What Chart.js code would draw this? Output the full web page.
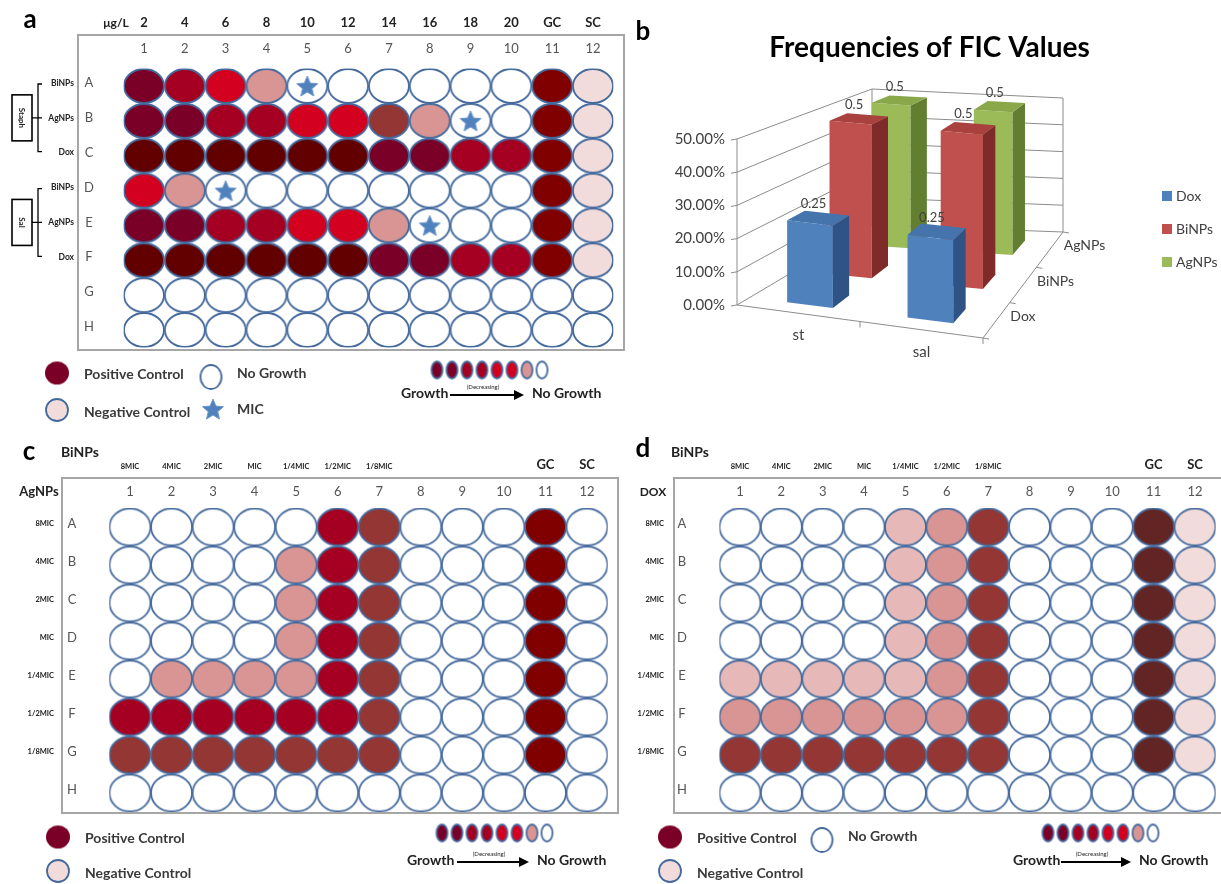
<!DOCTYPE html>
<html>
<head>
<meta charset="utf-8">
<script src="https://cdn.jsdelivr.net/npm/chart.js@4.4.1/dist/chart.umd.min.js"></script>
<style>
  body { margin: 0; background: #fff; }
  #page { position: relative; width: 1221px; height: 884px; overflow: hidden; background: #fff; }
  canvas { position: absolute; }
</style>
</head>
<body>
<div id="page">
  <canvas id="plateA" width="630" height="430" style="left:0;top:0"></canvas>
  <canvas id="ficChart" width="591" height="430" style="left:630px;top:0"></canvas>
  <canvas id="plateC" width="620" height="454" style="left:0;top:430px"></canvas>
  <canvas id="plateD" width="611" height="454" style="left:610px;top:430px"></canvas>
</div>
<script>
// ---- data ----
const plateCols = [1, 2, 3, 4, 5, 6, 7, 8, 9, 10, 11, 12];
const plateRows = ['A', 'B', 'C', 'D', 'E', 'F', 'G', 'H'];

// panel a
const concLabelsA = ['2', '4', '6', '8', '10', '12', '14', '16', '18', '20', 'GC', 'SC'];
const rowNamesA = ['BiNPs', 'AgNPs', 'Dox', 'BiNPs', 'AgNPs', 'Dox', '', ''];
const groupsA = [['Staph', 0, 2], ['Sal', 3, 5]];
// one letter per well: k darkest .. p pink, n negative control, g/G growth control, . empty, * MIC
const wellsA = [
  'mrRp*.....gn',
  'mmrrRRbp*.gn',
  'kkkkkkmmrrgn',
  'Rp*.......gn',
  'mmrrRRp*..gn',
  'kkkkkkmmrrgn',
  '............',
  '............'
];

// panels c, d
const micLabels = ['8MIC', '4MIC', '2MIC', 'MIC', '1/4MIC', '1/2MIC', '1/8MIC', '', '', '', 'GC', 'SC'];
const rowMicLabels = ['8MIC', '4MIC', '2MIC', 'MIC', '1/4MIC', '1/2MIC', '1/8MIC', ''];
const wellsC = [
  '.....rb...g.',
  '....prb...g.',
  '....prb...g.',
  '....prb...g.',
  '.pppprb...g.',
  'rrrrrrb...g.',
  'bbbbbbb...g.',
  '............'
];
const wellsD = [
  '....qpb...Gn',
  '....qpb...Gn',
  '....qpb...Gn',
  '....qpb...Gn',
  'qqqqqpb...Gn',
  'ppppppb...Gn',
  'bbbbbbb...Gn',
  '............'
];
const gradeCodes = ['m', 'm', 'r', 'r', 'R', 'R', 'p', '.'];

// panel b
const ficStrains = ['st', 'sal'];
const ficSeries = ['Dox', 'BiNPs', 'AgNPs'];
const ficDox = [0.25, 0.25];
const ficBiNPs = [0.5, 0.5];
const ficAgNPs = [0.5, 0.5];
const ficTicks = [0, 0.1, 0.2, 0.3, 0.4, 0.5];

// ---- styles ----
Chart.defaults.font.family = 'Lato, "DejaVu Sans", sans-serif';
const F = 'Lato, "DejaVu Sans", sans-serif';
const wellPalette = {
  '.': '#ffffff', '*': '#ffffff',
  k: '#620000', m: '#7a0028', r: '#a50021', R: '#d3001f',
  b: '#943634', p: '#d99594', q: '#e6b9b8', n: '#f2dcdb',
  g: '#800000', G: '#632523'
};
const wellStroke = '#44699c';

function txt(ctx, s, x, y, font, color, align) {
  ctx.font = font;
  ctx.fillStyle = color;
  ctx.textAlign = align || 'center';
  ctx.textBaseline = 'middle';
  ctx.fillText(s, x, y);
}

const imgCache = {};
function wellImg(color, w, h, noStroke) {
  const key = color + w + 'x' + h + (noStroke ? 'n' : '');
  if (imgCache[key]) return imgCache[key];
  const c = document.createElement('canvas');
  c.width = w + 4; c.height = h + 4;
  const x = c.getContext('2d');
  x.beginPath();
  x.ellipse(c.width / 2, c.height / 2, w / 2, h / 2, 0, 0, Math.PI * 2);
  x.fillStyle = color;
  x.fill();
  if (!noStroke) {
    x.lineWidth = 1.8;
    x.strokeStyle = wellStroke;
    x.stroke();
  }
  imgCache[key] = c;
  return c;
}

function starImg(r) {
  const c = document.createElement('canvas');
  c.width = c.height = 2 * r + 4;
  const x = c.getContext('2d');
  x.beginPath();
  for (let i = 0; i < 10; i++) {
    const a = -Math.PI / 2 + i * Math.PI / 5;
    const rr = i % 2 ? r * 0.45 : r;
    x.lineTo(c.width / 2 + rr * Math.cos(a), c.height / 2 + rr * Math.sin(a) + r * 0.1);
  }
  x.closePath();
  x.fillStyle = '#4f81bd';
  x.fill();
  x.strokeStyle = '#6b96cc';
  x.lineWidth = 1;
  x.stroke();
  return c;
}
const star = starImg(11);

function drawImgAt(ctx, img, x, y) {
  ctx.drawImage(img, x - img.width / 2, y - img.height / 2);
}

function arrow(ctx, x1, x2, y) {
  ctx.beginPath();
  ctx.moveTo(x1, y);
  ctx.lineTo(x2 - 6, y);
  ctx.lineWidth = 2;
  ctx.strokeStyle = '#000';
  ctx.stroke();
  ctx.beginPath();
  ctx.moveTo(x2, y);
  ctx.lineTo(x2 - 10, y - 5);
  ctx.lineTo(x2 - 10, y + 5);
  ctx.closePath();
  ctx.fillStyle = '#000';
  ctx.fill();
}

function drawLegend(ctx, L) {
  const lf = 'bold 14px ' + F, lc = '#3a3a3a';
  drawImgAt(ctx, wellImg('#7a0028', 24, 23, true), L.pos[0], L.pos[1]);
  txt(ctx, 'Positive Control', L.pos[0] + 27, L.pos[1] + 1, lf, lc, 'left');
  drawImgAt(ctx, wellImg(wellPalette.n, 22, 22), L.neg[0], L.neg[1]);
  txt(ctx, 'Negative Control', L.neg[0] + 27, L.neg[1] + 2, lf, lc, 'left');
  if (L.none) {
    drawImgAt(ctx, wellImg('#ffffff', 21, 24), L.none[0], L.none[1]);
    txt(ctx, 'No Growth', L.none[0] + 26, L.none[1] - 4, lf, lc, 'left');
  }
  if (L.mic) {
    drawImgAt(ctx, star, L.mic[0], L.mic[1]);
    txt(ctx, 'MIC', L.mic[0] + 24, L.mic[1], lf, lc, 'left');
  }
  const k = L.key;
  gradeCodes.forEach((code, i) => {
    drawImgAt(ctx, wellImg(wellPalette[code], 11, 17), k.x + i * 15, k.y);
  });
  txt(ctx, 'Growth', k.gx, k.gy, 'bold 14px ' + F, '#222', 'left');
  arrow(ctx, k.a1, k.a2, k.gy + 2);
  txt(ctx, '(Decreasing)', (k.a1 + k.a2) / 2 - 4, k.gy - 6, '6px ' + F, '#222', 'center');
  txt(ctx, 'No Growth', k.a2 + 8, k.gy, 'bold 14px ' + F, '#222', 'left');
}

function platePlugin(cfg) {
  return {
    id: 'plateDecor',
    beforeDatasetsDraw(chart) {
      const ctx = chart.ctx, f = cfg.frame;
      ctx.save();
      ctx.strokeStyle = '#a6a6a6';
      ctx.lineWidth = 2;
      ctx.strokeRect(f[0], f[1], f[2] - f[0], f[3] - f[1]);
      ctx.restore();
    },
    afterDraw(chart) {
      const ctx = chart.ctx, x = chart.scales.x, y = chart.scales.y;
      ctx.save();
      txt(ctx, cfg.letter[0], cfg.letter[1], cfg.letter[2], 'bold 26px ' + F, '#000');
      plateCols.forEach((n, i) => {
        txt(ctx, String(n), x.getPixelForValue(i + 1), cfg.numY, '13px ' + F, '#555');
      });
      cfg.header.forEach((lab, i) => {
        if (!lab) return;
        const small = cfg.smallHeader && lab.length > 2;
        txt(ctx, lab, x.getPixelForValue(i + 1), cfg.headerY + (small ? 2 : 0),
          small ? 'bold 7.5px ' + F : 'bold 13px ' + F, '#222');
      });
      plateRows.forEach((r, i) => {
        txt(ctx, r, cfg.letterX, y.getPixelForValue(i + 1) - 3, '13px ' + F, '#555');
      });
      cfg.titles.forEach(t => txt(ctx, t[0], t[1], t[2], t[3] + F, '#222'));
      if (cfg.rowNames) {
        cfg.rowNames.forEach((s, i) => {
          txt(ctx, s, cfg.rowNameX, y.getPixelForValue(i + 1) - 3, cfg.rowNameFont + F, '#222', 'right');
        });
      }
      if (cfg.groups) {
        ctx.strokeStyle = '#000';
        ctx.lineWidth = 1.3;
        cfg.groups.forEach(([name, r0, r1]) => {
          const top = y.getPixelForValue(r0 + 1) - 2;
          const bot = y.getPixelForValue(r1 + 1) - 4;
          const mid = (top + bot) / 2;
          ctx.beginPath();
          ctx.moveTo(42, top); ctx.lineTo(38, top); ctx.lineTo(38, bot); ctx.lineTo(42, bot);
          ctx.moveTo(38, mid); ctx.lineTo(32, mid);
          ctx.moveTo(42, mid); ctx.lineTo(38, mid);
          ctx.stroke();
          ctx.lineWidth = 1.6;
          ctx.strokeRect(12, mid - 23, 20, 46);
          ctx.lineWidth = 1.3;
          ctx.save();
          ctx.translate(22, mid);
          ctx.rotate(Math.PI / 2);
          txt(ctx, name, 0, 0, 'bold 8px ' + F, '#222');
          ctx.restore();
        });
      }
      drawLegend(ctx, cfg.legend);
      ctx.restore();
    }
  };
}

function plateChart(cfg) {
  const pts = [], styles = [], stars = [];
  cfg.wells.forEach((row, r) => {
    [...row].forEach((code, c) => {
      pts.push({ x: c + 1, y: r + 1 });
      styles.push(wellImg(wellPalette[code], cfg.wellW, cfg.wellH));
      if (code === '*') stars.push({ x: c + 1, y: r + 1 });
    });
  });
  const sx = (cfg.x12 - cfg.x1) / 11, sy = (cfg.yH - cfg.yA) / 7;
  new Chart(document.getElementById(cfg.canvas), {
    type: 'scatter',
    data: {
      datasets: [
        { data: stars, pointStyle: star, pointRadius: 3, order: 0 },
        { data: pts, pointStyle: styles, pointRadius: 3, order: 1 }
      ]
    },
    options: {
      responsive: false,
      animation: false,
      events: [],
      layout: {
        padding: {
          left: cfg.x1 - sx / 2,
          right: cfg.W - cfg.x12 - sx / 2,
          top: cfg.yA - sy / 2,
          bottom: cfg.H - cfg.yH - sy / 2
        }
      },
      scales: {
        x: { type: 'linear', min: 0.5, max: 12.5, display: false },
        y: { type: 'linear', min: 0.5, max: 8.5, reverse: true, display: false }
      },
      plugins: { legend: { display: false }, tooltip: { enabled: false } }
    },
    plugins: [platePlugin(cfg)]
  });
}

plateChart({
  canvas: 'plateA', W: 630, H: 430,
  wells: wellsA, wellW: 40, wellH: 34,
  x1: 144, x12: 593, yA: 86, yH: 330,
  frame: [78, 35, 624, 350],
  letter: ['a', 30, 20],
  numY: 49, letterX: 89,
  header: concLabelsA, headerY: 23,
  titles: [['μg/L', 116, 23, 'bold 12px ']],
  rowNames: rowNamesA, rowNameX: 74, rowNameFont: 'bold 8.5px ',
  groups: groupsA,
  legend: {
    pos: [57, 373], neg: [57, 410], none: [211, 377], mic: [213, 409],
    key: { x: 437, y: 370, gx: 401, gy: 393, a1: 450, a2: 524 }
  }
});

plateChart({
  canvas: 'plateC', W: 620, H: 454,
  wells: wellsC, wellW: 41, wellH: 37,
  x1: 130, x12: 587, yA: 97, yH: 363,
  frame: [62, 48, 618, 383],
  letter: ['c', 29, 22],
  numY: 62, letterX: 72,
  header: micLabels, headerY: 35, smallHeader: true,
  titles: [['BiNPs', 80, 22, 'bold 14px '], ['AgNPs', 39, 62, 'bold 13px ']],
  rowNames: rowMicLabels, rowNameX: 54, rowNameFont: 'bold 7.5px ',
  legend: {
    pos: [58, 407], neg: [58, 441],
    key: { x: 442, y: 403, gx: 407, gy: 430, a1: 457, a2: 529 }
  }
});

plateChart({
  canvas: 'plateD', W: 611, H: 454,
  wells: wellsD, wellW: 41, wellH: 37,
  x1: 130, x12: 585, yA: 97, yH: 363,
  frame: [64, 48, 614, 383],
  letter: ['d', 33, 19],
  numY: 62, letterX: 72,
  header: micLabels, headerY: 35, smallHeader: true,
  titles: [['BiNPs', 80, 22, 'bold 14px '], ['DOX', 43, 62, 'bold 12px ']],
  rowNames: rowMicLabels, rowNameX: 54, rowNameFont: 'bold 7.5px ',
  legend: {
    pos: [60, 407], neg: [60, 441], none: [212, 410],
    key: { x: 438, y: 403, gx: 403, gy: 430, a1: 451, a2: 521 }
  }
});

// ---- panel b: 3D column chart ----
// floor corners (front-left, front-right, back-right, back-left) and full-scale heights
const FL = [107, 305], FR = [353, 338], BR = [433, 232], BL = [242, 225];
const HFL = 166, HFR = 170, HBR = 134, HBL = 136;
const depthSlots = [[0.095, 0.235], [0.43, 0.57], [0.765, 0.905]];
const barShades = [
  { front: '#4f81bd', side: '#2f5384', top: '#4574ad' },
  { front: '#c0504d', side: '#7e2b29', top: '#a9413e' },
  { front: '#9bbb59', side: '#627e31', top: '#88a84a' }
];

function proj(u, w, v) {
  const a = (1 - u) * (1 - w), b = u * (1 - w), c = u * w, d = (1 - u) * w;
  const x = a * FL[0] + b * FR[0] + c * BR[0] + d * BL[0];
  const y = a * FL[1] + b * FR[1] + c * BR[1] + d * BL[1];
  const h = a * HFL + b * HFR + c * HBR + d * HBL;
  return [x, y - v * h];
}

function path(ctx, pts) {
  ctx.beginPath();
  pts.forEach((p, i) => (i ? ctx.lineTo(p[0], p[1]) : ctx.moveTo(p[0], p[1])));
}

function poly(ctx, pts, color) {
  path(ctx, pts);
  ctx.closePath();
  ctx.fillStyle = color;
  ctx.fill();
}

const fic3d = {
  id: 'fic3d',
  beforeDatasetsDraw(chart) {
    const ctx = chart.ctx, ca = chart.chartArea, ys = chart.scales.y;
    const span = ys.bottom - ys.top;
    ctx.save();
    ctx.strokeStyle = '#8c8c8c';
    ctx.lineWidth = 1;
    ys.ticks.forEach(t => {
      const v = (ys.bottom - ys.getPixelForValue(t.value)) / span;
      path(ctx, [proj(0, 0, v), proj(0, 1, v), proj(1, 1, v)]);
      ctx.stroke();
      const p = proj(0, 0, v);
      path(ctx, [[p[0] - 6, p[1] + 1], p]);
      ctx.stroke();
      txt(ctx, (t.value * 100).toFixed(2) + '%', p[0] - 12, p[1], '15px ' + F, '#404040', 'right');
    });
    path(ctx, [proj(0, 0, 0), proj(0, 0, 1)]); ctx.stroke();
    path(ctx, [proj(0, 1, 0), proj(0, 1, 1)]); ctx.stroke();
    path(ctx, [proj(1, 1, 0), proj(1, 1, 1)]); ctx.stroke();
    path(ctx, [proj(0, 0, 0), proj(1, 0, 0), proj(1, 1, 0)]); ctx.stroke();
    // tick marks on the floor edges
    [0.5, 1].forEach(u => {
      const p = proj(u, 0, 0);
      path(ctx, [p, [p[0], p[1] + 6]]); ctx.stroke();
    });
    [0, 1 / 3, 2 / 3, 1].forEach(w => {
      const p = proj(1, w, 0);
      path(ctx, [p, [p[0] + 6, p[1] + 1]]); ctx.stroke();
    });
    // category and series labels
    chart.data.labels.forEach((lab, i) => {
      const p = proj((i + 0.5) / chart.data.labels.length, 0, 0);
      txt(ctx, lab, p[0], p[1] + 22, '15px ' + F, '#404040');
    });
    chart.data.datasets.forEach((ds, d) => {
      const p = proj(1, (d + 0.5) / 3, 0);
      txt(ctx, ds.label, p[0] + 14, p[1] - 4, '14px ' + F, '#404040', 'left');
    });
    // bars, back to front
    const labels = [];
    for (let d = chart.data.datasets.length - 1; d >= 0; d--) {
      const meta = chart.getDatasetMeta(d);
      const [w0, w1] = depthSlots[d];
      const sh = barShades[d];
      meta.data.forEach((el, i) => {
        const u0 = (el.x - el.width / 2 - ca.left) / ca.width;
        const u1 = (el.x + el.width / 2 - ca.left) / ca.width;
        const v = (el.base - el.y) / span;
        poly(ctx, [proj(u0, w0, 0), proj(u1, w0, 0), proj(u1, w0, v), proj(u0, w0, v)], sh.front);
        poly(ctx, [proj(u1, w0, 0), proj(u1, w1, 0), proj(u1, w1, v), proj(u1, w0, v)], sh.side);
        poly(ctx, [proj(u0, w0, v), proj(u1, w0, v), proj(u1, w1, v), proj(u0, w1, v)], sh.top);
        const lp = proj((u0 + u1) / 2, (w0 + w1) / 2, v);
        labels.push([String(chart.data.datasets[d].data[i]), lp[0] - 5, lp[1] - 14]);
      });
    }
    labels.forEach(l => txt(ctx, l[0], l[1], l[2], '13px ' + F, '#404040'));
    // legend
    chart.data.datasets.forEach((ds, d) => {
      const yy = 196 + d * 33;
      ctx.fillStyle = ds.backgroundColor;
      ctx.fillRect(532, yy - 5, 10, 10);
      txt(ctx, ds.label, 546, yy, '14px ' + F, '#404040', 'left');
    });
    txt(ctx, 'b', 13, 32, 'bold 26px ' + F, '#000');
    ctx.restore();
    return false;
  }
};

new Chart(document.getElementById('ficChart'), {
  type: 'bar',
  data: {
    labels: ficStrains,
    datasets: [
      { label: ficSeries[0], data: ficDox, backgroundColor: barShades[0].front },
      { label: ficSeries[1], data: ficBiNPs, backgroundColor: barShades[1].front },
      { label: ficSeries[2], data: ficAgNPs, backgroundColor: barShades[2].front }
    ]
  },
  options: {
    responsive: false,
    animation: false,
    events: [],
    datasets: { bar: { grouped: false, barPercentage: 0.38, categoryPercentage: 1 } },
    layout: { padding: { left: 8 } },
    scales: {
      x: { display: false },
      y: {
        display: false, min: 0, max: 0.5,
        afterBuildTicks: s => { s.ticks = ficTicks.map(v => ({ value: v })); }
      }
    },
    plugins: {
      legend: { display: false },
      tooltip: { enabled: false },
      title: {
        display: true,
        text: 'Frequencies of FIC Values',
        color: '#000',
        font: { size: 28, weight: 'bold' },
        padding: { top: 31, bottom: 10 }
      }
    }
  },
  plugins: [fic3d]
});
</script>
</body>
</html>
